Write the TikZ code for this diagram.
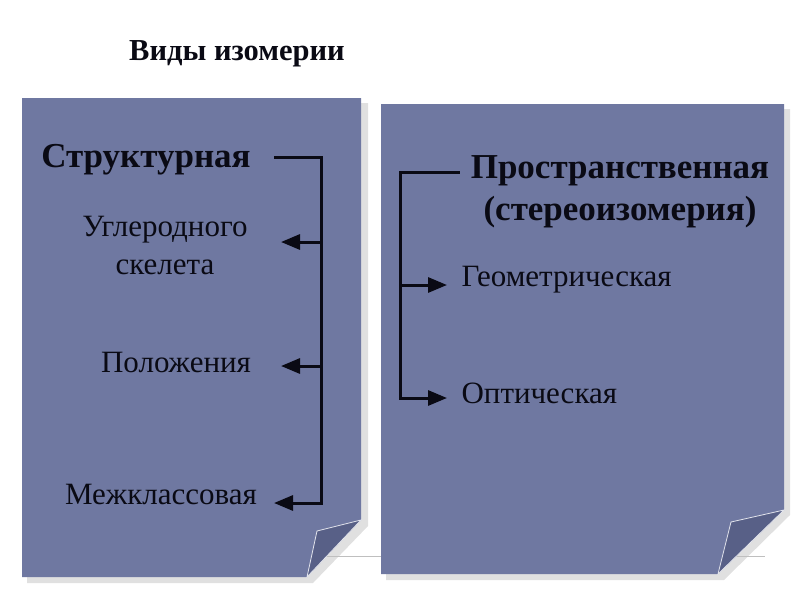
\documentclass[tikz,border=0pt]{standalone}
\usepackage{fontspec}
\setmainfont{Liberation Serif}
\usetikzlibrary{arrows.meta}
\definecolor{panel}{RGB}{111,120,161}
\definecolor{folddark}{RGB}{88,96,135}
\definecolor{ink}{RGB}{10,10,20}
\tikzset{
  panelbox/.style={fill=panel,draw=none},
  foldbox/.style={fill=folddark,draw=white!80!panel,line width=0.8pt},
  shadowbox/.style={fill=black!12,draw=none},
  conn/.style={draw=ink,line width=3pt},
  arr/.style={conn,-{Triangle[length=19pt,width=15pt]}},
  title/.style={font=\bfseries\fontsize{30.5}{34}\selectfont,text=ink},
  head/.style={font=\bfseries\fontsize{35}{42}\selectfont,text=ink,align=center},
  item/.style={font=\fontsize{31}{38}\selectfont,text=ink,align=center},
}
\begin{document}
\begin{tikzpicture}[x=1pt,y=-1pt]
\useasboundingbox (0,0) rectangle (800,600);
% shadows
\path[shadowbox] (27,103) -- (368,103) -- (368,526) -- (313,583) -- (27,583) -- cycle;
\path[shadowbox] (386,109) -- (790,109) -- (790,515) -- (724,580) -- (386,580) -- cycle;
\draw[black!25,line width=0.6pt] (320,556) -- (765,556);
% panels
\path[panelbox] (22,98) -- (361,98) -- (361,520) -- (307,577) -- (22,577) -- cycle;
\path[foldbox] (361,520) -- (317,531) -- (307,577) -- cycle;
\path[panelbox] (381,104) -- (784,104) -- (784,510) -- (718,574) -- (381,574) -- cycle;
\path[foldbox] (784,510) -- (731,522) -- (718,574) -- cycle;
% title
\node[title] (t) at (237,54) {Виды изомерии};
% left
\node[head] (s) at (146,160) {Структурная};
\node[item] (u) at (165,245) {Углеродного\\скелета};
\node[item] (p) at (176,362) {Положения};
\node[item] (m) at (161,494) {Межклассовая};
\coordinate (l0) at (275,157);
\coordinate (l1) at (321,157);
\coordinate (l2) at (321,503);
\coordinate (a1) at (321,242);
\coordinate (a2) at (321,366);
\coordinate (e1) at (281,242);
\coordinate (e2) at (281,366);
\coordinate (e3) at (274,503);
\draw[conn,line cap=rect] (l0) -- (l1) -- (l2);
\draw[arr] (a1) -- (e1);
\draw[arr] (a2) -- (e2);
\draw[arr] (l2) -- (e3);
% right
\node[head] (pr) at (620,192) {Пространственная\\(стереоизомерия)};
\node[item,anchor=west] (g) at (458,280) {Геометрическая};
\node[item,anchor=west] (o) at (458,393) {Оптическая};
\coordinate (r0) at (458,172);
\coordinate (r1) at (400,172);
\coordinate (r2) at (400,398);
\coordinate (b1) at (400,285);
\coordinate (f1) at (447,285);
\coordinate (f2) at (447,398);
\draw[conn,line cap=rect] (r0) -- (r1) -- (r2);
\draw[arr] (b1) -- (f1);
\draw[arr] (r2) -- (f2);
\end{tikzpicture}
\end{document}
